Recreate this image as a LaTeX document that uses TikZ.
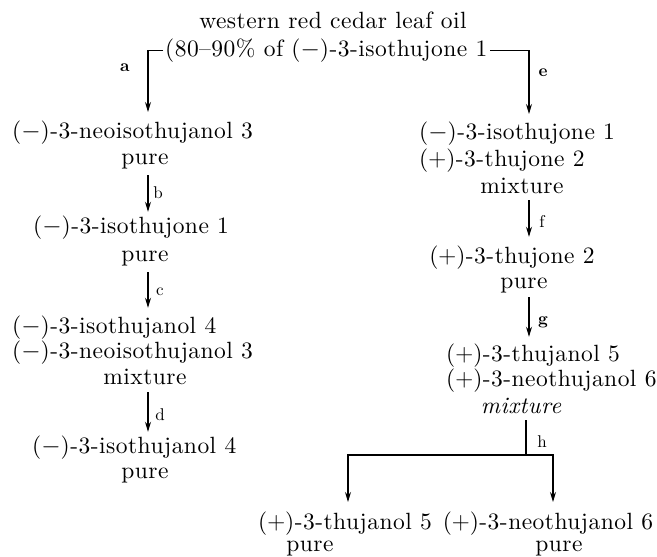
\documentclass[tikz,border=0pt]{standalone}
\usepackage{fontspec}
\setmainfont{lmroman10-regular}[Extension=.otf, ItalicFont=lmroman10-italic, BoldFont=lmroman10-bold, LetterSpace=2]
\usetikzlibrary{arrows.meta}
\begin{document}
\begin{tikzpicture}[x=1pt,y=-1pt,
  txt/.style={inner sep=0pt, font=\fontsize{23.5}{28}\selectfont},
  lbl/.style={inner sep=0pt, font=\fontsize{17}{20}\selectfont},
  lblb/.style={inner sep=0pt, font=\fontsize{17}{20}\selectfont\bfseries},
  ln/.style={line width=1.1pt},
  arr/.style={ln, -{Stealth[length=10pt,width=6pt]}},
  darr/.style={ln, {Stealth[length=10pt,width=6pt]}-{Stealth[length=10pt,width=6pt]}}]
\useasboundingbox (0,0) rectangle (657,557);
% title
\node[txt,anchor=base] (T1) at (333,28) {western red cedar leaf oil};
\node[txt,anchor=base west] (T2) at (165,56) {(80--90\% of ($-$)-3-isothujone 1};
\coordinate (ta) at (148,112);
\coordinate (te) at (529,114);
\draw[arr] ([xshift=-2pt]T2.west) -| (ta);
\draw[arr] ([xshift=3pt]T2.east) -| (te);
\node[lblb] (la) at (125,68) {a};
\node[lblb] (le) at (543,73) {e};
% left column
\node[txt,anchor=base west] (L1a) at (12,138) {($-$)-3-neoisothujanol 3};
\node[txt,anchor=base] (L1b) at (145,164) {pure};
\node[txt,anchor=base west] (L2a) at (33,233) {($-$)-3-isothujone 1};
\node[txt,anchor=base] (L2b) at (145,261) {pure};
\node[txt,anchor=base west] (L3a) at (12,333) {($-$)-3-isothujanol 4};
\node[txt,anchor=base west] (L3b) at (12,358) {($-$)-3-neoisothujanol 3};
\node[txt,anchor=base] (L3c) at (145,384) {mixture};
\node[txt,anchor=base west] (L4a) at (32,453) {($-$)-3-isothujanol 4};
\node[txt,anchor=base] (L4b) at (145,478) {pure};
\draw[arr, shorten <=6.4pt, shorten >=3.4pt] (L1b.south -| ta) -- (L2a.north -| ta);
\draw[arr, shorten <=6.4pt, shorten >=7.4pt] (L2b.south -| ta) -- (L3a.north -| ta);
\draw[arr, shorten <=8pt, shorten >=3.4pt] (L3c.south -| ta) -- (L4a.north -| ta);
\node[lbl] (lb) at (158,193) {b};
\node[lbl] (lc) at (160,292) {c};
\node[lbl] (ld) at (160,415) {d};
% right column
\node[txt,anchor=base west] (R1a) at (419,139) {($-$)-3-isothujone 1};
\node[txt,anchor=base west] (R1b) at (419,166) {($+$)-3-thujone 2};
\node[txt,anchor=base] (R1c) at (522,193) {mixture};
\node[txt,anchor=base] (R2a) at (512,263) {($+$)-3-thujone 2};
\node[txt,anchor=base] (R2b) at (524,288) {pure};
\node[txt,anchor=base west] (R3a) at (446,361) {($+$)-3-thujanol 5};
\node[txt,anchor=base west] (R3b) at (446,386) {($+$)-3-neothujanol 6};
\node[txt,anchor=base] (R3c) at (521,413) {\itshape mixture};
\draw[arr, shorten <=7pt, shorten >=8.4pt] (R1c.south -| te) -- (R2a.north -| te);
\draw[arr, shorten <=4.4pt, shorten >=6.4pt] (R2b.south -| te) -- (R3a.north -| te);
\node[lbl] (lf) at (542,222) {f};
\node[lblb] (lg) at (543,322) {g};
% split h
\coordinate (hj) at (526,455);
\coordinate (hl) at (348,502);
\coordinate (hr) at (553,502);
\draw[ln] ([yshift=-7pt]R3c.south -| hj) -- (hj);
\draw[darr] (hl) |- (hj) -| (hr);
\node[lbl] (lh) at (542,442) {h};
% bottom
\node[txt,anchor=base] (B1a) at (345,529) {($+$)-3-thujanol 5};
\node[txt,anchor=base] (B1b) at (310,551) {pure};
\node[txt,anchor=base] (B2a) at (548,529) {($+$)-3-neothujanol 6};
\node[txt,anchor=base] (B2b) at (559,551) {pure};
\end{tikzpicture}
\end{document}
